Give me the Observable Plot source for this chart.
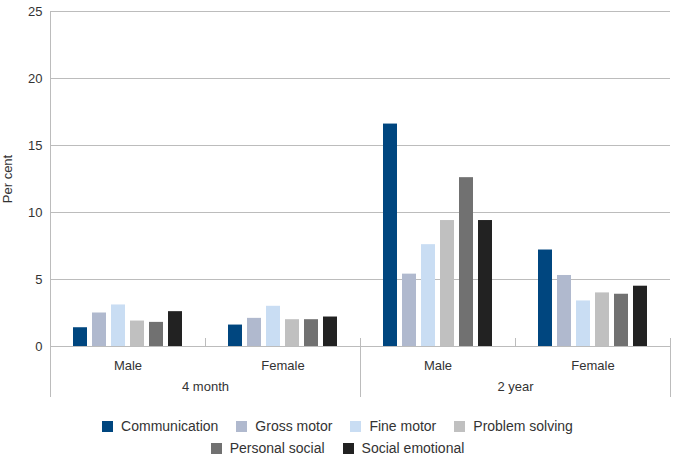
<!DOCTYPE html>
<html>
<head>
<meta charset="utf-8">
<script src="https://cdn.jsdelivr.net/npm/d3@7"></script>
<script src="https://cdn.jsdelivr.net/npm/@observablehq/plot@0.6"></script>
<style>
  html, body { margin: 0; padding: 0; background: #fff; }
  body { width: 675px; font-family: "Liberation Sans", Arial, sans-serif; color: #333; }
  #chart svg { display: block; }
  #chart svg text { font-size: 13px; font-family: "Liberation Sans", Arial, sans-serif; }
  #legend { width: 510px; margin: 0 auto; padding-top: 15px; display: flex; flex-wrap: wrap; justify-content: center; font-size: 14px; line-height: 22px; color: #333; }
  .item { display: flex; align-items: center; margin: 0 9px; white-space: nowrap; }
  .sw { width: 11px; height: 11px; margin-right: 8px; display: inline-block; }
</style>
</head>
<body>
<div id="chart"></div>
<div id="legend"></div>
<script>
const ages = ["4 month", "2 year"];
const sexes = ["Male", "Female"];
const domains = ["Communication", "Gross motor", "Fine motor", "Problem solving", "Personal social", "Social emotional"];
const colors = ["#00467f", "#b0b9ce", "#c9ddf3", "#c0c0c0", "#717171", "#222222"];
const male4m = [1.4, 2.5, 3.1, 1.9, 1.8, 2.6];
const female4m = [1.6, 2.1, 3.0, 2.0, 2.0, 2.2];
const male2y = [16.6, 5.4, 7.6, 9.4, 12.6, 9.4];
const female2y = [7.2, 5.3, 3.4, 4.0, 3.9, 4.5];
const yTicks = [0, 5, 10, 15, 20, 25];

const series = {
  "4 month|Male": male4m,
  "4 month|Female": female4m,
  "2 year|Male": male2y,
  "2 year|Female": female2y
};
const keys = [];
ages.forEach(a => sexes.forEach(s => keys.push(a + "|" + s)));
const rows = [];
keys.forEach(k => series[k].forEach((v, i) => rows.push({key: k, domain: domains[i], value: v})));
const groupRows = ages.map(a => ({key: a + "|" + sexes[0], age: a}));

const plot = Plot.plot({
  width: 675,
  height: 400,
  marginLeft: 50,
  marginRight: 5,
  marginTop: 11,
  marginBottom: 54,
  style: {fontFamily: "Liberation Sans, Arial, sans-serif", fontSize: "13px", color: "#333", background: "#fff"},
  fx: {domain: keys, padding: 0, axis: "bottom", tickSize: 0, tickPadding: 14, tickFormat: k => k.split("|")[1], label: null},
  x: {domain: domains, axis: null, paddingInner: 0.24, paddingOuter: 1.1},
  y: {domain: [0, 25], ticks: yTicks, tickSize: 0, tickPadding: 8, label: "Per cent", labelArrow: "none", labelAnchor: "center", labelOffset: 48},
  color: {domain: domains, range: colors},
  marks: [
    Plot.ruleY(yTicks, {stroke: "#bcbcbc"}),
    Plot.barY(rows, {fx: "key", x: "domain", y: "value", fill: "domain"}),
    Plot.text(groupRows, {fx: "key", text: "age", frameAnchor: "bottom-right", dy: 44, textAnchor: "middle", fill: "#333"})
  ]
});
document.getElementById("chart").appendChild(plot);

// category separators, positioned with the plot's own scales
const fxS = plot.scale("fx");
const yS = plot.scale("y");
const y0 = yS.apply(0), yTop = yS.apply(25);
const svg = d3.select(plot);
const g = svg.append("g").attr("stroke", "#bcbcbc").attr("shape-rendering", "crispEdges");
const line = (x, ya, yb) => g.append("line").attr("x1", x).attr("x2", x).attr("y1", ya).attr("y2", yb);
const left = fxS.apply(keys[0]);
const right = fxS.apply(keys[keys.length - 1]) + fxS.bandwidth;
line(left, yTop, y0 + 51);
line(fxS.apply("2 year|Male"), y0 - 8, y0 + 51);
line(right, y0 - 8, y0 + 51);
line(fxS.apply("4 month|Female"), y0 - 8, y0);
line(fxS.apply("2 year|Female"), y0 - 8, y0);

const legend = d3.select("#legend");
domains.forEach((d, i) => {
  const it = legend.append("div").attr("class", "item");
  it.append("span").attr("class", "sw").style("background", colors[i]);
  it.append("span").text(d);
});
</script>
</body>
</html>
